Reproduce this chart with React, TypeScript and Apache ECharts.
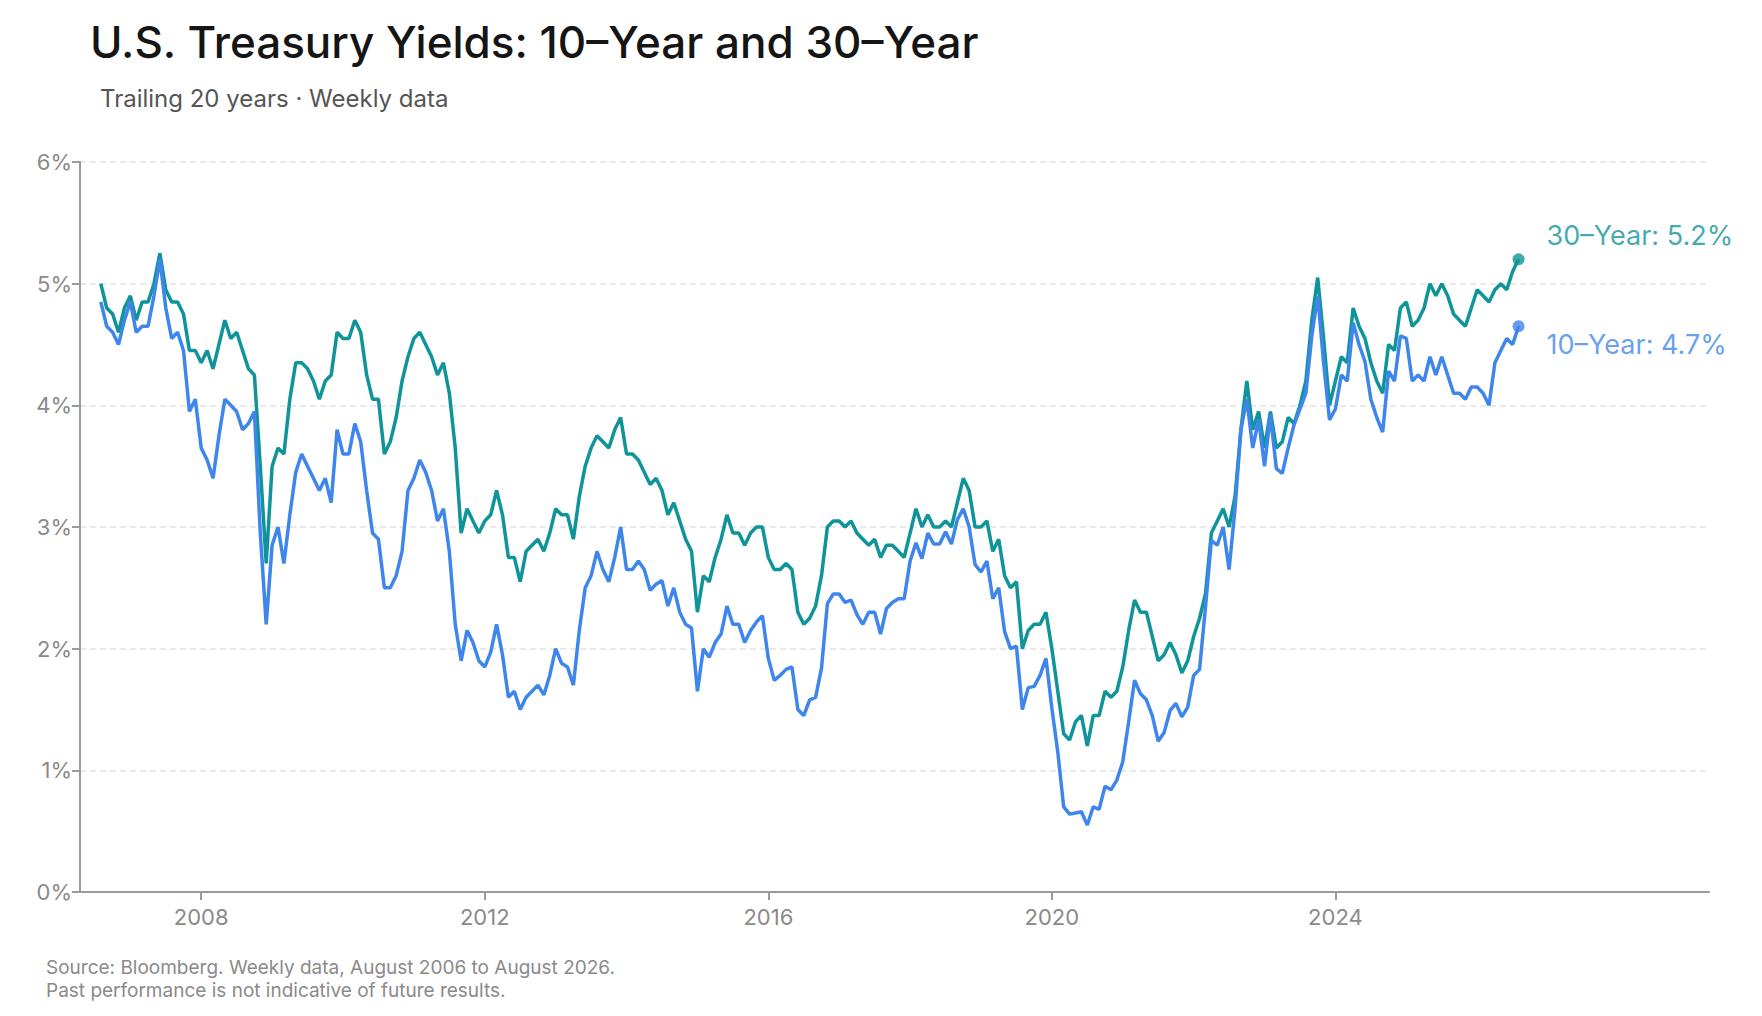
import React, { useEffect, useRef } from 'react';
import * as echarts from 'echarts';

const COLORS = {
  T30: '#0f9499',
  T10: '#3f86ec',
  AXIS: '#9a9a9a',
  LABEL: '#8a8a8a',
  GRID: '#e2e2e2',
  TITLE: '#151515',
  SUB: '#555555',
};

const START_YEAR = 2006;
const START_MONTH = 8; // August 2006, monthly points

const yield10 = [
  4.85, 4.65, 4.6, 4.5, 4.7,
  4.85, 4.6, 4.65, 4.65, 4.9, 5.2, 4.8, 4.55, 4.6, 4.45, 3.95, 4.05,
  3.65, 3.55, 3.4, 3.75, 4.05, 4.0, 3.95, 3.8, 3.85, 3.95, 2.95, 2.2,
  2.85, 3.0, 2.7, 3.1, 3.45, 3.6, 3.5, 3.4, 3.3, 3.4, 3.2, 3.8,
  3.6, 3.6, 3.85, 3.7, 3.3, 2.95, 2.9, 2.5, 2.5, 2.6, 2.8, 3.3,
  3.4, 3.55, 3.45, 3.3, 3.05, 3.15, 2.8, 2.2, 1.9, 2.15, 2.05, 1.9,
  1.85, 1.97, 2.2, 1.95, 1.6, 1.65, 1.5, 1.6, 1.65, 1.7, 1.62, 1.78,
  2.0, 1.88, 1.85, 1.7, 2.15, 2.5, 2.6, 2.8, 2.65, 2.55, 2.75, 3.0,
  2.65, 2.65, 2.72, 2.65, 2.48, 2.53, 2.56, 2.35, 2.5, 2.3, 2.2, 2.17,
  1.65, 2.0, 1.93, 2.05, 2.12, 2.35, 2.2, 2.2, 2.05, 2.15, 2.22, 2.27,
  1.92, 1.74, 1.78, 1.83, 1.85, 1.5, 1.45, 1.58, 1.6, 1.84, 2.37, 2.45,
  2.45, 2.38, 2.4, 2.28, 2.2, 2.3, 2.3, 2.12, 2.33, 2.38, 2.41, 2.41,
  2.72, 2.87, 2.74, 2.95, 2.86, 2.86, 2.96, 2.86, 3.06, 3.15, 3.0, 2.69,
  2.63, 2.72, 2.41, 2.5, 2.14, 2.0, 2.02, 1.5, 1.68, 1.69, 1.78, 1.92,
  1.51, 1.15, 0.7, 0.64, 0.65, 0.66, 0.55, 0.7, 0.68, 0.87, 0.84, 0.92,
  1.07, 1.4, 1.74, 1.63, 1.58, 1.45, 1.24, 1.31, 1.49, 1.55, 1.44, 1.52,
  1.78, 1.83, 2.34, 2.89, 2.85, 3.0, 2.65, 3.15, 3.8, 4.05, 3.65, 3.88,
  3.5, 3.92, 3.48, 3.44, 3.65, 3.84, 3.97, 4.1, 4.57, 4.9, 4.35, 3.88,
  3.97, 4.25, 4.2, 4.68, 4.5, 4.36, 4.05, 3.9, 3.78, 4.28, 4.2, 4.57,
  4.55, 4.2, 4.25, 4.2, 4.4, 4.25, 4.4, 4.25, 4.1, 4.1, 4.05, 4.15,
  4.15, 4.1, 4.0, 4.35, 4.45, 4.55, 4.5, 4.65,
];

const yield30 = [
  5.0, 4.8, 4.75, 4.6, 4.8,
  4.9, 4.7, 4.85, 4.85, 5.0, 5.25, 4.95, 4.85, 4.85, 4.75, 4.45, 4.45,
  4.35, 4.45, 4.3, 4.5, 4.7, 4.55, 4.6, 4.45, 4.3, 4.25, 3.5, 2.7,
  3.5, 3.65, 3.6, 4.05, 4.35, 4.35, 4.3, 4.2, 4.05, 4.2, 4.25, 4.6,
  4.55, 4.55, 4.7, 4.6, 4.25, 4.05, 4.05, 3.6, 3.7, 3.9, 4.2, 4.4,
  4.55, 4.6, 4.5, 4.4, 4.25, 4.35, 4.1, 3.65, 2.95, 3.15, 3.05, 2.95,
  3.05, 3.1, 3.3, 3.1, 2.75, 2.75, 2.55, 2.8, 2.85, 2.9, 2.8, 2.95,
  3.15, 3.1, 3.1, 2.9, 3.25, 3.5, 3.65, 3.75, 3.7, 3.65, 3.8, 3.9,
  3.6, 3.6, 3.55, 3.45, 3.35, 3.4, 3.3, 3.1, 3.2, 3.05, 2.9, 2.8,
  2.3, 2.6, 2.55, 2.75, 2.9, 3.1, 2.95, 2.95, 2.85, 2.95, 3.0, 3.0,
  2.75, 2.65, 2.65, 2.7, 2.65, 2.3, 2.2, 2.25, 2.35, 2.6, 3.0, 3.05,
  3.05, 3.0, 3.05, 2.95, 2.9, 2.85, 2.9, 2.75, 2.85, 2.85, 2.8, 2.75,
  2.95, 3.15, 3.0, 3.1, 3.0, 3.0, 3.05, 3.0, 3.2, 3.4, 3.3, 3.0,
  3.0, 3.05, 2.8, 2.9, 2.6, 2.5, 2.55, 2.0, 2.15, 2.2, 2.2, 2.3,
  2.0, 1.65, 1.3, 1.25, 1.4, 1.45, 1.2, 1.45, 1.45, 1.65, 1.6, 1.65,
  1.85, 2.15, 2.4, 2.3, 2.3, 2.1, 1.9, 1.95, 2.05, 1.95, 1.8, 1.9,
  2.1, 2.25, 2.45, 2.95, 3.05, 3.15, 3.0, 3.25, 3.8, 4.2, 3.8, 3.95,
  3.65, 3.95, 3.65, 3.7, 3.9, 3.85, 4.0, 4.2, 4.7, 5.05, 4.55, 4.0,
  4.2, 4.4, 4.35, 4.8, 4.65, 4.55, 4.35, 4.2, 4.1, 4.5, 4.45, 4.8,
  4.85, 4.65, 4.7, 4.8, 5.0, 4.9, 5.0, 4.9, 4.75, 4.7, 4.65, 4.8,
  4.95, 4.9, 4.85, 4.95, 5.0, 4.95, 5.1, 5.2,
];

const yearTicks = [2008, 2012, 2016, 2020, 2024];

// decimal year of the i-th monthly point
const monthX = (i: number) => START_YEAR + (START_MONTH - 1 + i) / 12;

const toSeries = (vals: number[]) => vals.map((v, i) => [monthX(i), v]);

const FONT = 'Inter, "Noto Sans", sans-serif';

const App: React.FC = () => {
  const divEL = useRef<HTMLDivElement>(null);

  useEffect(() => {
    const instance = echarts.init(divEL.current as any, null, { renderer: 'svg' });
    const last = yield10.length - 1;

    const option: echarts.EChartsOption = {
      animation: false,
      textStyle: { fontFamily: FONT },
      grid: { left: 72, right: 45, top: 154, bottom: 116 },
      graphic: [
        {
          type: 'text', left: 82, top: 12,
          style: { text: 'U.S. Treasury Yields: 10\u2013Year and 30\u2013Year', fill: COLORS.TITLE, font: `500 44px ${FONT}` },
        },
        {
          type: 'text', left: 92, top: 78,
          style: { text: 'Trailing 20 years \u00b7 Weekly data', fill: COLORS.SUB, font: `400 24px ${FONT}` },
        },
        {
          type: 'text', left: 38, top: 948,
          style: {
            text: 'Source: Bloomberg. Weekly data, August 2006 to August 2026.\nPast performance is not indicative of future results.',
            fill: COLORS.LABEL, font: `400 19px ${FONT}`, lineHeight: 23,
          },
        },
      ],
      xAxis: {
        type: 'value',
        min: 2006.29,
        max: 2029.27,
        axisLine: { lineStyle: { color: COLORS.AXIS, width: 2 } },
        axisTick: { customValues: yearTicks, length: 8, lineStyle: { color: COLORS.AXIS, width: 2 } },
        axisLabel: {
          customValues: yearTicks,
          formatter: (v: number) => String(v),
          color: COLORS.LABEL, fontSize: 22, margin: 14,
        },
        splitLine: { show: false },
      },
      yAxis: {
        type: 'value',
        min: 0,
        max: 6,
        interval: 1,
        axisLine: { show: true, lineStyle: { color: COLORS.AXIS, width: 2 } },
        axisTick: { show: true, length: 8, lineStyle: { color: COLORS.AXIS, width: 2 } },
        axisLabel: { color: COLORS.LABEL, fontSize: 22, margin: 8, formatter: (v: number) => v + '%' },
        splitLine: { lineStyle: { color: COLORS.GRID, type: [6, 4], width: 1.5 } },
      },
      series: [
        {
          name: '30-Year', type: 'line', data: toSeries(yield30), showSymbol: false,
          lineStyle: { color: COLORS.T30, width: 3.5 }, z: 2,
        },
        {
          name: '10-Year', type: 'line', data: toSeries(yield10), showSymbol: false,
          lineStyle: { color: COLORS.T10, width: 3.5 }, z: 3,
        },
        {
          type: 'scatter', symbolSize: 12, z: 4,
          itemStyle: { color: COLORS.T30 },
          data: [[monthX(last), yield30[last]]],
          label: {
            show: true, position: 'right', distance: 22, offset: [0, -24],
            formatter: '30\u2013Year: ' + yield30[last].toFixed(1) + '%',
            color: COLORS.T30, fontSize: 27, fontFamily: FONT,
          },
        },
        {
          type: 'scatter', symbolSize: 12, z: 4,
          itemStyle: { color: COLORS.T10 },
          data: [[monthX(last), yield10[last]]],
          label: {
            show: true, position: 'right', distance: 22, offset: [0, 18],
            formatter: '10\u2013Year: ' + yield10[last].toFixed(1) + '%',
            color: COLORS.T10, fontSize: 27, fontFamily: FONT,
          },
        },
      ],
    };
    instance.setOption(option);
    return () => {
      instance.dispose();
    };
  }, []);

  return <div ref={divEL} style={{ width: 1746, height: 1000 }}></div>;
};

export default App;
